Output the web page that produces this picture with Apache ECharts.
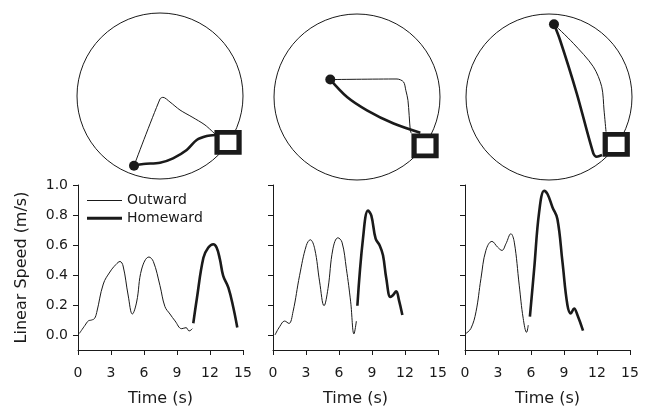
<!DOCTYPE html>
<html>
<head>
<meta charset="utf-8">
<script src="https://cdn.jsdelivr.net/npm/echarts@6/dist/echarts.min.js"></script>
<style>
  html, body { margin: 0; background: #fff; }
  #chart { width: 645px; height: 415px; }
</style>
</head>
<body>
<div id="chart"></div>
<script>
// speed traces, [time (s), speed (m/s)]
const outward1 = [[0.12,0.01],[0.64,0.065],[0.94,0.094],[1.24,0.1],[1.5,0.11],[1.7,0.15],[2.3,0.34],[2.9,0.42],[3.45,0.47],[3.82,0.49],[4.1,0.46],[4.57,0.26],[4.94,0.14],[5.33,0.22],[5.79,0.44],[6.45,0.52],[6.85,0.49],[7.45,0.33],[7.9,0.19],[8.36,0.14],[8.82,0.094],[9.43,0.042],[9.82,0.049],[10.1,0.027],[10.4,0.042]];
const homeward1 = [[10.48,0.078],[10.8,0.24],[11.4,0.515],[11.85,0.583],[12.3,0.605],[12.6,0.583],[12.9,0.505],[13.2,0.394],[13.67,0.316],[14.12,0.183],[14.48,0.05]];
const outward2 = [[0.18,0.0],[0.6,0.055],[1.06,0.093],[1.45,0.077],[1.82,0.155],[2.42,0.398],[3.03,0.597],[3.39,0.635],[3.79,0.575],[4.24,0.354],[4.64,0.195],[5.0,0.31],[5.45,0.575],[5.9,0.648],[6.27,0.619],[6.67,0.442],[7.06,0.221],[7.36,0.007],[7.58,0.093]];
const homeward2 = [[7.67,0.195],[8.18,0.642],[8.64,0.83],[8.94,0.796],[9.33,0.642],[9.7,0.597],[10.0,0.531],[10.3,0.376],[10.67,0.254],[10.9,0.265],[11.2,0.292],[11.45,0.232],[11.76,0.133]];
const outward3 = [[0.09,0.011],[0.54,0.044],[1.0,0.155],[1.45,0.376],[1.9,0.564],[2.45,0.624],[2.96,0.586],[3.36,0.564],[3.72,0.608],[4.17,0.675],[4.48,0.619],[4.93,0.332],[5.29,0.111],[5.6,0.018],[5.75,0.066]];
const homeward3 = [[5.9,0.122],[6.29,0.442],[6.74,0.819],[7.2,0.962],[7.5,0.94],[7.95,0.852],[8.4,0.774],[8.86,0.487],[9.31,0.2],[9.62,0.144],[9.92,0.177],[10.22,0.133],[10.73,0.029]];

// arena paths, in arena radii (centre 0,0)
const pathOut1 = [[0.663,-0.458],[0.542,-0.349],[0.386,-0.253],[0.241,-0.169],[0.12,-0.072],[0.036,-0.016],[0.0,-0.036],[-0.313,-0.84]];
const pathHome1 = [[-0.313,-0.84],[-0.201,-0.819],[0.0,-0.804],[0.157,-0.751],[0.322,-0.651],[0.442,-0.53],[0.563,-0.482],[0.663,-0.47]];
const pathOut2 = [[-0.322,0.21],[0.482,0.217],[0.561,0.181],[0.588,0.081],[0.614,-0.04],[0.642,-0.401],[0.654,-0.437]];
const pathHome2 = [[-0.322,0.21],[-0.12,0.0],[0.12,-0.16],[0.441,-0.32],[0.763,-0.431]];
const pathOut3 = [[0.06,0.876],[0.293,0.647],[0.534,0.365],[0.635,0.124],[0.663,-0.157],[0.687,-0.418]];
const pathHome3 = [[0.06,0.876],[0.133,0.687],[0.334,0.045],[0.534,-0.678],[0.575,-0.719],[0.639,-0.699]];
const feeders = [[-0.313,-0.84],[-0.322,0.21],[0.06,0.876]];
const nests = [[0.82,-0.56],[0.82,-0.59],[0.81,-0.57]];

const yTicks = [0, 0.2, 0.4, 0.6, 0.8, 1.0];

const outwards = [outward1, outward2, outward3];
const homewards = [homeward1, homeward2, homeward3];
const pathOuts = [pathOut1, pathOut2, pathOut3];
const pathHomes = [pathHome1, pathHome2, pathHome3];

const ink = '#1a1a1a';
const font = 'DejaVu Sans';
const plotLeft = [78, 273, 465];
const arenaLeft = [77, 274, 466];
const arenaTop = [13, 14, 14];

const grid = [], xAxis = [], yAxis = [], series = [];

for (let i = 0; i < 3; i++) {
  grid.push({ left: plotLeft[i], top: 185, width: 165, height: 165 });
  xAxis.push({
    type: 'value', gridIndex: i, min: 0, max: 15, interval: 3,
    name: 'Time (s)', nameLocation: 'middle', nameGap: 41,
    nameTextStyle: { fontFamily: font, fontSize: 16, color: ink },
    axisLine: { onZero: false, lineStyle: { color: ink, width: 1 } },
    axisTick: { length: 5, lineStyle: { color: ink } },
    axisLabel: { margin: 16, fontFamily: font, fontSize: 14, color: ink },
    splitLine: { show: false }
  });
  yAxis.push({
    type: 'value', gridIndex: i, min: -0.1, max: 1.0,
    name: i === 0 ? 'Linear Speed (m/s)' : '', nameLocation: 'middle', nameGap: 48,
    nameTextStyle: { fontFamily: font, fontSize: 16, color: ink },
    axisLine: { show: true, lineStyle: { color: ink, width: 1 } },
    axisTick: { show: true, length: 5, customValues: yTicks, lineStyle: { color: ink } },
    axisLabel: {
      show: i === 0, customValues: yTicks, margin: 10,
      fontFamily: font, fontSize: 14, color: ink,
      formatter: v => v.toFixed(1)
    },
    splitLine: { show: false }
  });
  series.push({
    name: 'Outward', type: 'line', xAxisIndex: i, yAxisIndex: i,
    data: outwards[i], smooth: 0.4, showSymbol: false,
    itemStyle: { color: ink }, lineStyle: { color: ink, width: 1 }
  });
  series.push({
    name: 'Homeward', type: 'line', xAxisIndex: i, yAxisIndex: i,
    data: homewards[i], smooth: 0.4, showSymbol: false,
    itemStyle: { color: ink }, lineStyle: { color: ink, width: 2.6 }
  });
}

for (let i = 0; i < 3; i++) {
  const g = 3 + i;
  grid.push({ left: arenaLeft[i], top: arenaTop[i], width: 166, height: 166 });
  xAxis.push({ type: 'value', gridIndex: g, min: -1, max: 1, show: false });
  yAxis.push({ type: 'value', gridIndex: g, min: -1, max: 1, show: false });
  series.push({
    type: 'custom', xAxisIndex: g, yAxisIndex: g, data: [[0, 0]], clip: false,
    renderItem: (params, api) => {
      const c = api.coord([0, 0]);
      const r = api.size([1, 0])[0];
      return { type: 'circle', shape: { cx: c[0], cy: c[1], r: r },
        style: { fill: 'none', stroke: ink, lineWidth: 1 } };
    }
  });
  series.push({
    type: 'line', xAxisIndex: g, yAxisIndex: g, data: pathOuts[i],
    smooth: 0.3, showSymbol: false, lineStyle: { color: ink, width: 1 }
  });
  series.push({
    type: 'line', xAxisIndex: g, yAxisIndex: g, data: pathHomes[i],
    smooth: 0.3, showSymbol: false, lineStyle: { color: ink, width: 2.6 }
  });
  series.push({
    type: 'scatter', xAxisIndex: g, yAxisIndex: g, data: [feeders[i]],
    symbol: 'circle', symbolSize: 10, itemStyle: { color: ink, opacity: 1 }, z: 4
  });
  series.push({
    type: 'scatter', xAxisIndex: g, yAxisIndex: g, data: [nests[i]],
    symbol: 'rect', symbolSize: [22, 20], z: 5,
    itemStyle: { color: '#fff', opacity: 1, borderColor: ink, borderWidth: 5 }
  });
}

const chart = echarts.init(document.getElementById('chart'));
chart.setOption({
  animation: false,
  legend: [
    { data: ['Outward'], left: 87, top: 193.5, padding: 0, icon: 'rect',
      itemWidth: 35, itemHeight: 1, selectedMode: false,
      textStyle: { fontFamily: font, fontSize: 14, color: ink } },
    { data: ['Homeward'], left: 87, top: 211.3, padding: 0, icon: 'rect',
      itemWidth: 35, itemHeight: 3, selectedMode: false,
      textStyle: { fontFamily: font, fontSize: 14, color: ink } }
  ],
  grid: grid,
  xAxis: xAxis,
  yAxis: yAxis,
  series: series
});
</script>
</body>
</html>
